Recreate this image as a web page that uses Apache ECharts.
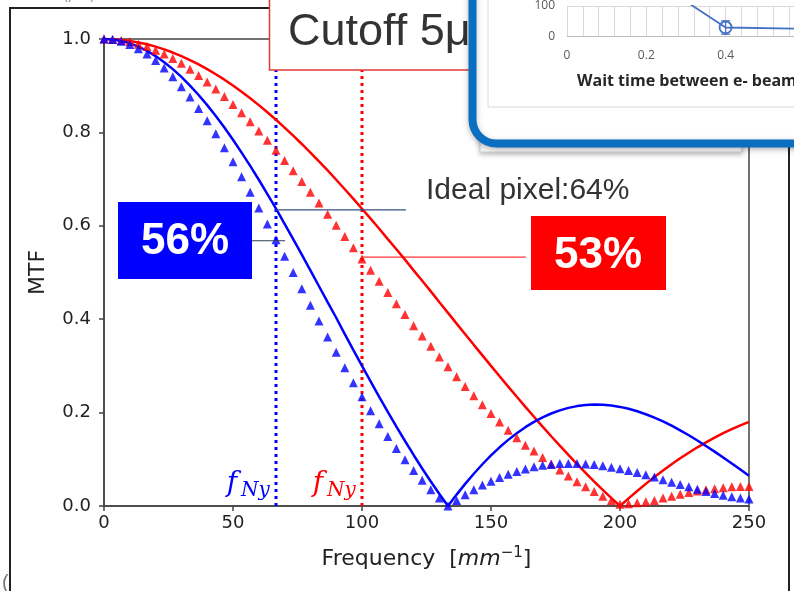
<!DOCTYPE html>
<html><head><meta charset="utf-8">
<script src="https://cdn.jsdelivr.net/npm/echarts@6/dist/echarts.min.js"></script>
<style>html,body{margin:0;padding:0;background:#fff;overflow:hidden}#c{width:794px;height:591px}</style>
</head><body><div id="c"></div>
<script>
// ---- main chart data (spatial frequency, mm^-1) ----
const freq = [0,3.33,6.67,10,13.33,16.67,20,23.33,26.67,30,33.33,36.67,40,43.33,46.67,50,53.33,56.67,60,63.33,66.67,70,73.33,76.67,80,83.33,86.67,90,93.33,96.67,100,103.33,106.67,110,113.33,116.67,120,123.33,126.67,130,133.33,136.67,140,143.33,146.67,150,153.33,156.67,160,163.33,166.67,170,173.33,176.67,180,183.33,186.67,190,193.33,196.67,200,203.33,206.67,210,213.33,216.67,220,223.33,226.67,230,233.33,236.67,240,243.33,246.67,250];
const blueIdeal = [1,0.999,0.9959,0.9908,0.9836,0.9745,0.9634,0.9504,0.9355,0.9188,0.9003,0.8801,0.8584,0.8351,0.8103,0.7842,0.7568,0.7283,0.6986,0.668,0.6366,0.6043,0.5715,0.5381,0.5046,0.4705,0.4364,0.4031,0.3679,0.3338,0.3001,0.2667,0.2339,0.2016,0.17,0.1392,0.1093,0.0803,0.0524,0.0256,0,0.0244,0.0474,0.0691,0.0894,0.1083,0.1257,0.1416,0.1559,0.1688,0.1801,0.1898,0.1981,0.2048,0.2101,0.2139,0.2162,0.2172,0.2168,0.2151,0.2122,0.2081,0.2028,0.1965,0.1892,0.181,0.1719,0.162,0.1515,0.1403,0.1286,0.1165,0.1039,0.0911,0.0781,0.065];
const redIdeal = [1,0.9995,0.9982,0.9959,0.9927,0.9886,0.9836,0.9777,0.971,0.9634,0.9549,0.9456,0.9355,0.9246,0.9129,0.9003,0.8871,0.873,0.8584,0.843,0.827,0.8103,0.793,0.7752,0.7568,0.7379,0.7185,0.6986,0.6783,0.6576,0.6366,0.6153,0.5937,0.5715,0.5497,0.5275,0.5046,0.4823,0.4596,0.4364,0.4135,0.3905,0.3679,0.3451,0.3225,0.3001,0.2778,0.2557,0.2339,0.2123,0.191,0.17,0.1494,0.1292,0.1093,0.0899,0.071,0.0524,0.0344,0.0169,0,0.0164,0.0322,0.0474,0.0621,0.0762,0.0894,0.1021,0.1141,0.1257,0.1364,0.1464,0.1559,0.1646,0.1726,0.1801];
const blueMeas = [1,0.999,0.995,0.988,0.979,0.968,0.954,0.938,0.919,0.898,0.876,0.851,0.825,0.797,0.767,0.737,0.705,0.672,0.638,0.604,0.57,0.535,0.5,0.465,0.43,0.396,0.362,0.329,0.296,0.264,0.234,0.204,0.176,0.149,0.123,0.099,0.076,0.055,0.035,0.017,0,0.012,0.024,0.035,0.045,0.053,0.061,0.068,0.074,0.079,0.084,0.087,0.089,0.091,0.091,0.091,0.09,0.089,0.086,0.083,0.08,0.076,0.072,0.067,0.062,0.056,0.051,0.046,0.041,0.036,0.031,0.027,0.023,0.02,0.017,0.015];
const redMeas = [1,0.999,0.997,0.994,0.989,0.984,0.976,0.968,0.958,0.948,0.935,0.922,0.908,0.893,0.877,0.86,0.842,0.823,0.803,0.783,0.762,0.74,0.718,0.695,0.672,0.649,0.625,0.601,0.577,0.553,0.529,0.505,0.481,0.457,0.433,0.41,0.386,0.364,0.342,0.319,0.298,0.277,0.256,0.236,0.217,0.198,0.18,0.162,0.146,0.13,0.118,0.104,0.09,0.077,0.064,0.052,0.041,0.031,0.021,0.012,0.004,0.005,0.007,0.009,0.012,0.017,0.021,0.025,0.029,0.032,0.035,0.037,0.039,0.041,0.042,0.042];
const xTicks = [0,50,100,150,200,250];
const yTicks = [0,0.2,0.4,0.6,0.8,1.0];
const nyquistBlue = 66.67;
const nyquistRed = 100;
const idealLine = [[66.67,0.634],[117,0.634]];
const blueLabelLine = [[57.4,0.568],[70.2,0.568]];
const redLabelLine = [[100,0.533],[163.5,0.533]];
// ---- inset chart data ----
const insetX = [0.2,0.4,0.6,0.8];
const insetY = [200,30,26,25];
const insetErr = [[0.4,8],[0.4,52]];

const zip = (xs, ys) => xs.map((x,i)=>[x, ys[i]]);
const chart = echarts.init(document.getElementById('c'), null, {renderer:'canvas'});
const DJ = 'DejaVu Sans';
const AR = 'Liberation Sans, Arial, sans-serif';

const option = {
  animation:false,
  backgroundColor:'#fff',
  grid:[
    {left:104, right:45, top:39, bottom:85, show:true, borderColor:'#444', borderWidth:1.5, backgroundColor:'transparent', z:0},
    {left:567, right:0, top:0.5, height:36.2}
  ],
  xAxis:[
    {gridIndex:0, type:'value', min:0, max:250, interval:50,
     axisLine:{lineStyle:{color:'#444', width:1.5}},
     axisTick:{show:true, inside:false, length:5, lineStyle:{color:'#444', width:1.5}},
     axisLabel:{fontSize:18, color:'#222', fontFamily:DJ, margin:8},
     splitLine:{show:false},
     name:'{a|Frequency  [}{b|mm}{c|−1}{a|]}', nameLocation:'middle', nameGap:40,
     nameTextStyle:{rich:{
       a:{fontSize:22, fontFamily:DJ, color:'#222'},
       b:{fontSize:22, fontFamily:DJ, fontStyle:'italic', color:'#222'},
       c:{fontSize:15, fontFamily:DJ, color:'#222', padding:[0,0,12,0]}}}},
    {gridIndex:1, type:'value', min:0, max:0.5725, interval:0.04, z:35,
     axisLine:{lineStyle:{color:'#bfbfbf', width:1}},
     axisTick:{show:false},
     axisLabel:{fontSize:12, color:'#595959', fontFamily:'Open Sans', margin:13, showMaxLabel:false,
       formatter:v=>{const r=Math.round(v*100); return r%20===0 ? String(+(v.toFixed(1))) : '';}},
     splitLine:{show:true, lineStyle:{color:'#d9d9d9', width:1}}}
  ],
  yAxis:[
    {gridIndex:0, type:'value', min:0, max:1, interval:0.2,
     axisLine:{lineStyle:{color:'#444', width:1.5}},
     axisTick:{show:true, inside:false, length:5, lineStyle:{color:'#444', width:1.5}},
     axisLabel:{fontSize:18, color:'#222', fontFamily:DJ, margin:13, formatter:v=>v.toFixed(1)},
     splitLine:{show:false},
     name:'MTF', nameLocation:'middle', nameGap:55,
     nameTextStyle:{fontSize:22, fontFamily:DJ, color:'#222'}},
    {gridIndex:1, type:'value', min:0, max:100, interval:100, z:35,
     axisLine:{show:false}, axisTick:{show:false},
     axisLabel:{fontSize:12, color:'#595959', fontFamily:'Open Sans', margin:12},
     splitLine:{show:true, lineStyle:{color:'#d9d9d9', width:1}}}
  ],
  series:[
    {type:'line', xAxisIndex:0, yAxisIndex:0, data:[[nyquistBlue,0],[nyquistBlue,1]], symbol:'none',
     lineStyle:{color:'#0000ff', width:3, type:[3,4]}, z:2},
    {type:'line', xAxisIndex:0, yAxisIndex:0, data:[[nyquistRed,0],[nyquistRed,1]], symbol:'none',
     lineStyle:{color:'#ff0000', width:3, type:[3,4]}, z:2},
    {type:'line', xAxisIndex:0, yAxisIndex:0, data:zip(freq, redIdeal), symbol:'none',
     lineStyle:{color:'#ff0000', width:2.5}, z:3},
    {type:'line', xAxisIndex:0, yAxisIndex:0, data:zip(freq, blueIdeal), symbol:'none',
     lineStyle:{color:'#0000ff', width:2.5}, z:3},
    {type:'scatter', xAxisIndex:0, yAxisIndex:0, data:zip(freq, redMeas), symbol:'triangle', symbolSize:9,
     itemStyle:{color:'#ff0000'}, z:4},
    {type:'scatter', xAxisIndex:0, yAxisIndex:0, data:zip(freq, blueMeas), symbol:'triangle', symbolSize:9,
     itemStyle:{color:'#0000ff'}, z:4},
    {type:'line', xAxisIndex:0, yAxisIndex:0, data:idealLine, symbol:'none',
     lineStyle:{color:'#34507e', width:1.2}, z:5},
    {type:'line', xAxisIndex:0, yAxisIndex:0, data:blueLabelLine, symbol:'none',
     lineStyle:{color:'#2c3b55', width:1.2}, z:5},
    {type:'line', xAxisIndex:0, yAxisIndex:0, data:redLabelLine, symbol:'none',
     lineStyle:{color:'#ff0000', width:1}, z:5},
    // inset
    {type:'line', xAxisIndex:1, yAxisIndex:1, data:insetErr, symbol:'none',
     lineStyle:{color:'#4472c4', width:1.3}, z:40},
    {type:'scatter', xAxisIndex:1, yAxisIndex:1, data:insetErr, symbol:'rect', symbolSize:[9,1.5],
     itemStyle:{color:'#4472c4'}, z:40},
    {type:'line', xAxisIndex:1, yAxisIndex:1, data:zip(insetX, insetY), symbol:'circle', symbolSize:12,
     lineStyle:{color:'#4472c4', width:1.8},
     itemStyle:{color:'rgba(255,255,255,0)', borderColor:'#4472c4', borderWidth:1.8}, z:41}
  ],
  graphic:[
    {type:'polyline', z:1, shape:{points:[[10,600],[10,8],[789,8],[789,600]]}, style:{stroke:'#222', lineWidth:2, fill:null}},
    {type:'text', z:1, style:{text:'λ (μm)', x:50, y:-5, font:'16px '+AR, fill:'#999', textVerticalAlign:'middle'}},
    {type:'text', z:1, style:{text:'(', x:2, y:583, font:'20px '+AR, fill:'#777', textVerticalAlign:'middle'}},
    // Cutoff box
    {type:'rect', z:10, shape:{x:269.5, y:-5, width:300, height:75}, style:{fill:'#fff', stroke:'#e23a3a', lineWidth:1.5}},
    {type:'text', z:11, style:{text:'Cutoff 5μm', x:288, y:33, font:'45px '+AR, fill:'#333', textVerticalAlign:'middle'}},
    // annotation boxes
    {type:'rect', z:12, shape:{x:118, y:202, width:134, height:77}, style:{fill:'#0000ff'}},
    {type:'text', z:13, style:{text:'56%', x:185, y:242, font:'bold 44px '+AR, fill:'#fff', textAlign:'center', textVerticalAlign:'middle'}},
    {type:'rect', z:12, shape:{x:531, y:216, width:135, height:74}, style:{fill:'#ff0000'}},
    {type:'text', z:13, style:{text:'53%', x:598, y:256, font:'bold 44px '+AR, fill:'#fff', textAlign:'center', textVerticalAlign:'middle'}},
    {type:'text', z:13, style:{text:'Ideal pixel:64%', x:426, y:191, font:'30px '+AR, fill:'#333', textVerticalAlign:'middle'}},
    // Nyquist labels
    {type:'text', z:13, style:{text:'f', x:232, y:484, font:'italic 28px DejaVu Serif', fill:'#0000ff', textAlign:'center', textVerticalAlign:'middle'}},
    {type:'text', z:13, style:{text:'Ny', x:241, y:491, font:'italic 20px DejaVu Serif', fill:'#0000ff', textVerticalAlign:'middle'}},
    {type:'text', z:13, style:{text:'f', x:318, y:484, font:'italic 28px DejaVu Serif', fill:'#ff0000', textAlign:'center', textVerticalAlign:'middle'}},
    {type:'text', z:13, style:{text:'Ny', x:327, y:491, font:'italic 20px DejaVu Serif', fill:'#ff0000', textVerticalAlign:'middle'}},
    // inset background
    {type:'rect', z:15, shape:{x:480, y:60, width:262, height:92}, style:{fill:'#fff', stroke:'#d0d0d0', lineWidth:1, shadowBlur:5, shadowColor:'rgba(0,0,0,0.25)', shadowOffsetY:2}},
    {type:'rect', z:20, shape:{x:472.5, y:-40, width:380, height:183.5, r:24}, style:{fill:'#fff', stroke:'#0b6fc1', lineWidth:8, shadowBlur:6, shadowColor:'rgba(0,0,0,0.25)', shadowOffsetY:2}},
    {type:'rect', z:25, shape:{x:488, y:-50, width:400, height:157}, style:{fill:null, stroke:'#d9d9d9', lineWidth:1}},
    {type:'text', z:45, style:{text:'Wait time between e- beam irradiation', x:577, y:81, font:'bold 16px Open Sans', fill:'#262626', textVerticalAlign:'middle'}}
  ]
};
chart.setOption(option);
</script>
</body></html>
